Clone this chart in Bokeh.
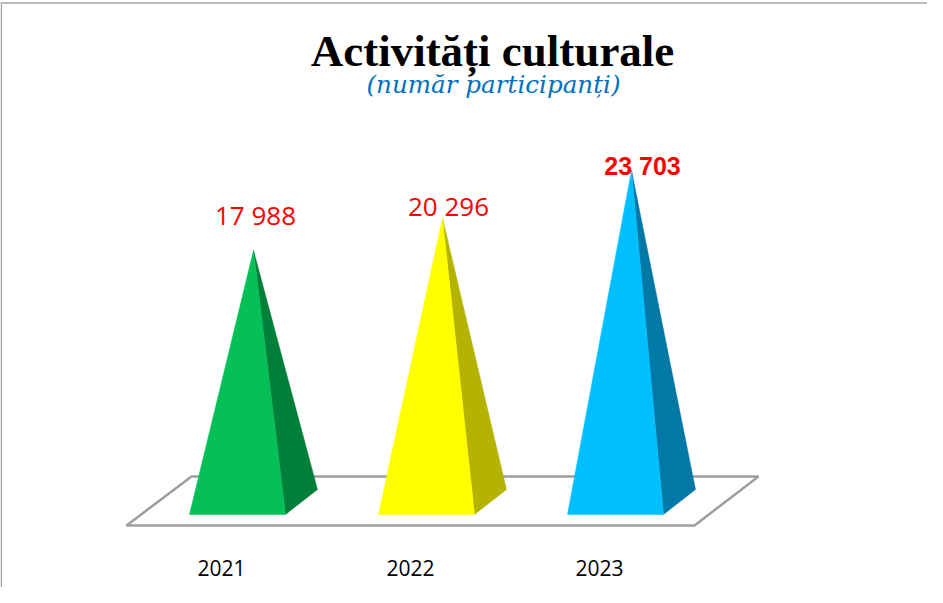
from bokeh.plotting import figure
from bokeh.models import Range1d, ColumnDataSource
from bokeh.core.properties import value
from bokeh.embed import file_html
from bokeh.resources import INLINE

# ---- data ----
years = ["2021", "2022", "2023"]
participants = [17988, 20296, 23703]
value_labels = ["17 988", "20 296", "23 703"]
title_text = "Activități culturale"
subtitle_text = "(număr participanți)"

# ---- style ----
front_colors = ["#05BF57", "#FFFF00", "#00BFFF"]
side_colors = ["#007F3B", "#B4B400", "#0079A6"]
label_fonts = ["Open Sans", "Open Sans", "Liberation Sans"]
label_styles = ["normal", "normal", "bold"]
label_sizes = ["26px", "26px", "25px"]
label_dx_px = [2, 6, 11]      # label offset from apex (px)
label_dy_px = [35, 12, 4]

W, H = 927, 587
CAT_X0 = 237        # px of first pyramid front-centre
CAT_STEP = 189      # px between categories
BASE_Y = 501.5      # px (from top) of the base-centre level
UNITS_PER_PX = 71.5
HALF_W = 48
DEPTH_X, DEPTH_Y = 32, 25


def dx(px):
    return px / CAT_STEP


def X(px):
    return (px - CAT_X0) / CAT_STEP


def Y(py):
    return (BASE_Y - py) * UNITS_PER_PX


p = figure(width=W, height=H, output_backend="svg", toolbar_location=None,
           x_range=Range1d(X(0), X(W)), y_range=Range1d(Y(H), Y(0)),
           min_border=0, background_fill_color="white", border_fill_color="white")
p.axis.visible = False
p.grid.visible = False
p.outline_line_color = None

# frame lines (top and left)
p.segment(x0=[X(0), X(0.8)], y0=[Y(2.5), Y(2.5)], x1=[X(W), X(0.8)], y1=[Y(2.5), Y(H)],
          line_color="#A6A6A6", line_width=1.5)

# floor platform
n = len(years)
front_y = Y(BASE_Y + 23.5)
back_y = Y(BASE_Y + 23.5 - 49)
fl = 0 - dx(111)
fr = (n - 1) + dx(79)
p.patch(x=[fl, fr, fr + dx(64), fl + dx(65)], y=[front_y, front_y, back_y, back_y],
        fill_color="white", line_color="#9E9E9E", line_width=2.5)

# pyramids
hw = dx(HALF_W)
ddx = dx(DEPTH_X)
ddy = DEPTH_Y * UNITS_PER_PX
front_xs, front_ys, side_xs, side_ys = [], [], [], []
apex_x = []
for i, v in enumerate(participants):
    ax = i + ddx / 2
    apex_x.append(ax)
    front_xs.append([i - hw, i + hw, ax])
    front_ys.append([-ddy / 2, -ddy / 2, v])
    side_xs.append([i + hw, i + hw + ddx, ax])
    side_ys.append([-ddy / 2, ddy / 2, v])

p.patches(xs=side_xs, ys=side_ys, fill_color=side_colors, line_color=side_colors, line_width=0.5)
p.patches(xs=front_xs, ys=front_ys, fill_color=front_colors, line_color=front_colors, line_width=0.5)

# value labels
lab = ColumnDataSource(dict(
    x=[apex_x[i] + dx(label_dx_px[i]) for i in range(n)],
    y=[participants[i] + label_dy_px[i] * UNITS_PER_PX for i in range(n)],
    text=value_labels, font=label_fonts, style=label_styles, size=label_sizes))
p.text(x="x", y="y", text="text", source=lab, text_font="font", text_font_style="style",
       text_font_size="size", text_color="#FF0000", text_align="center",
       text_baseline="alphabetic")

# category labels
p.text(x=[i - dx(16) for i in range(n)], y=[Y(567)] * n, text=years,
       text_font=value("Open Sans"), text_font_size=value("21px"), text_color="black",
       text_align="center", text_baseline="alphabetic")

# title & subtitle
p.text(x=[X(492)], y=[Y(50)], text=[title_text], text_font=value("Liberation Serif"),
       text_font_style="bold", text_font_size=value("45px"), text_color="black",
       text_align="center", text_baseline="alphabetic")
p.text(x=[X(493)], y=[Y(84)], text=[subtitle_text], text_font=value("DejaVu Serif"),
       text_font_style="italic", text_font_size=value("24.6px"), text_color="#0070C0",
       text_align="center", text_baseline="alphabetic")

open("out.html", "w").write(file_html(p, INLINE))
